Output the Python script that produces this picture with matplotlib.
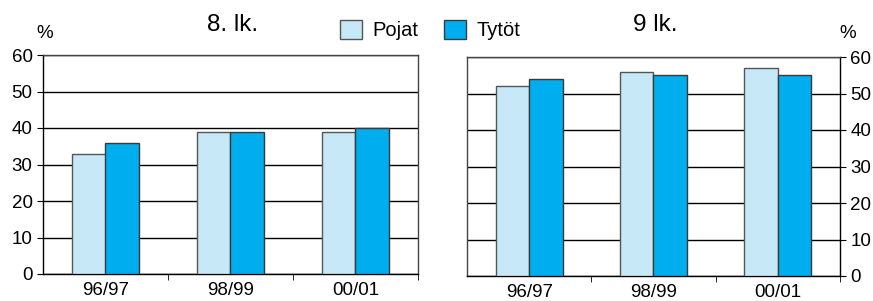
import numpy as np
import matplotlib.pyplot as plt
from matplotlib.patches import Patch

plt.rcParams['font.family'] = ['Liberation Sans', 'DejaVu Sans']

years = ['96/97', '98/99', '00/01']
pojat_8 = [33, 39, 39]
tytot_8 = [36, 39, 40]
pojat_9 = [52, 56, 57]
tytot_9 = [54, 55, 55]

light = '#c6e8f7'
dark = '#00adef'
edge = '#3a3a3a'

fig = plt.figure(figsize=(8.73, 3.01), dpi=100)
W, H = 873, 301
ax1 = fig.add_axes([43 / W, 1 - 274 / H, (418 - 43) / W, (274 - 55) / H])
ax2 = fig.add_axes([467 / W, 1 - 276 / H, (840 - 467) / W, (276 - 57) / H])

x = np.arange(len(years))
bw = 0.27


def draw(ax, p, t, right=False):
    ax.bar(x - bw / 2, p, bw, color=light, edgecolor='#555555', linewidth=1, zorder=3)
    ax.bar(x + bw / 2, t, bw, color=dark, edgecolor=edge, linewidth=1, zorder=3)
    ax.set_xlim(-0.5, 2.5)
    ax.set_ylim(0, 60)
    ax.set_yticks(range(0, 61, 10))
    ax.yaxis.grid(True, color='black', linewidth=1, zorder=0)
    ax.set_xticks(x)
    ax.set_xticklabels(years, fontsize=13.5)
    ax.set_xticks([0.5, 1.5, 2.5], minor=True)
    ax.tick_params(axis='x', which='major', length=0, pad=6)
    ax.tick_params(axis='x', which='minor', length=4, direction='out')
    ax.tick_params(axis='y', labelsize=13.5, length=4, direction='out')
    for s in ax.spines.values():
        s.set_color('#444444')
        s.set_linewidth(1)
    if right:
        ax.yaxis.tick_right()
        ax.spines['right'].set_color('black')
        ax.spines['bottom'].set_color('black')
    else:
        ax.spines['left'].set_color('black')
        ax.spines['bottom'].set_color('black')


draw(ax1, pojat_8, tytot_8)
draw(ax2, pojat_9, tytot_9, right=True)

fig.text(233 / W, 1 - 25 / H, '8. lk.', fontsize=17.5, ha='center', va='center')
fig.text(655 / W, 1 - 25 / H, '9 lk.', fontsize=17.5, ha='center', va='center')
fig.text(45 / W, 1 - 33 / H, '%', fontsize=13.5, ha='center', va='center')
fig.text(848 / W, 1 - 33 / H, '%', fontsize=13.5, ha='center', va='center')

handles = [Patch(facecolor=light, edgecolor='#555555', label='Pojat'),
           Patch(facecolor=dark, edgecolor=edge, label='Tytöt')]
fig.legend(handles=handles, loc='center', bbox_to_anchor=(430 / W, 1 - 30 / H), ncol=2,
           frameon=False, fontsize=14.5, handlelength=1.1, handleheight=1.1,
           handletextpad=0.5, columnspacing=1.3)

fig.savefig('out.png', dpi=100)
